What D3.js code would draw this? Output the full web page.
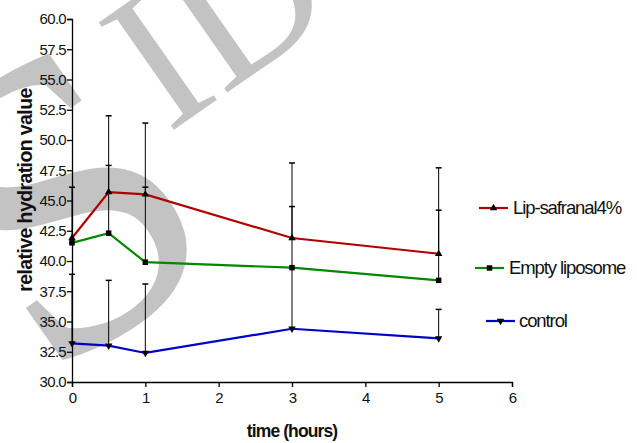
<!DOCTYPE html>
<html>
<head>
<meta charset="utf-8">
<script src="https://cdn.jsdelivr.net/npm/d3@7"></script>
<style>
  body { margin: 0; background: #fff; }
  text { font-family: "Liberation Sans", Arial, sans-serif; }
</style>
</head>
<body>
<div id="chart"></div>
<script>
// time points (hours)
var times = [0, 0.5, 1, 3, 5];
var seriesNames = ["Lip-safranal4%", "Empty liposome", "control"];
// means
var lipSafranal = [41.9, 45.7, 45.5, 41.9, 40.6];
var emptyLiposome = [41.5, 42.3, 39.9, 39.45, 38.4];
var control = [33.2, 33.0, 32.4, 34.4, 33.6];
// top of the error bars (mean + SD)
var lipSafranalTop = [46.1, 52.0, 51.4, 48.1, 47.7];
var emptyLiposomeTop = [41.5, 47.9, 46.1, 44.5, 44.2];
var controlTop = [38.9, 38.4, 38.1, 39.4, 36.0];
var yTicks = [30, 32.5, 35, 37.5, 40, 42.5, 45, 47.5, 50, 52.5, 55, 57.5, 60];
var xTicks = [0, 1, 2, 3, 4, 5, 6];

var W = 637, H = 443;
var margin = { top: 19, right: 125, bottom: 61, left: 72 };
var width = W - margin.left - margin.right,
    height = H - margin.top - margin.bottom;

var svg = d3.select("#chart").append("svg")
    .attr("width", W).attr("height", H);

// watermark behind everything (big S, smaller ID)
var wm = svg.append("g").attr("fill", "#c3c3c3");
wm.append("text")
    .attr("transform", "translate(45,385) rotate(-35)")
    .attr("font-size", 420)
    .style("font-family", "'Liberation Serif', serif")
    .text("S");
wm.append("text")
    .attr("transform", "translate(168,134) rotate(-35)")
    .attr("font-size", 200)
    .style("font-family", "'Liberation Serif', serif")
    .text("ID");

var g = svg.append("g")
    .attr("transform", "translate(" + margin.left + "," + margin.top + ")");

var x = d3.scaleLinear().domain([0, 6]).range([0, width]);
var y = d3.scaleLinear().domain([30, 60]).range([height, 0]);

// axes
var xAxis = g.append("g")
    .attr("transform", "translate(0," + height + ")")
    .call(d3.axisBottom(x).tickValues(xTicks).tickSize(5).tickPadding(5).tickFormat(d3.format("d")));
var yAxis = g.append("g")
    .call(d3.axisLeft(y).tickValues(yTicks).tickSize(5).tickPadding(1).tickFormat(d3.format(".1f")));

[xAxis, yAxis].forEach(function (a) {
    a.select(".domain").attr("stroke", "#000").attr("stroke-width", 1.3);
    a.selectAll(".tick line").attr("stroke", "#000").attr("stroke-width", 1.3);
    a.selectAll(".tick text")
        .attr("fill", "#111")
        .attr("font-size", 15)
        .attr("letter-spacing", -0.7)
        .style("font-family", "'Liberation Sans', Arial, sans-serif");
});

var series = [
    { name: seriesNames[0], mean: lipSafranal, top: lipSafranalTop, color: "#b00000", symbol: d3.symbolTriangle, rot: 0 },
    { name: seriesNames[1], mean: emptyLiposome, top: emptyLiposomeTop, color: "#008800", symbol: d3.symbolSquare, rot: 0 },
    { name: seriesNames[2], mean: control, top: controlTop, color: "#0000cc", symbol: d3.symbolTriangle, rot: 180 }
];

// error bars (upper only)
series.forEach(function (s) {
    var pts = times.map(function (t, i) { return { t: t, m: s.mean[i], u: s.top[i] }; });
    var eb = g.append("g").selectAll("g").data(pts).enter().append("g");
    eb.append("line")
        .attr("x1", function (d) { return x(d.t); })
        .attr("x2", function (d) { return x(d.t); })
        .attr("y1", function (d) { return y(d.m); })
        .attr("y2", function (d) { return y(d.u); })
        .attr("stroke", "#000").attr("stroke-width", 1);
    eb.append("line")
        .attr("x1", function (d) { return x(d.t) - 3; })
        .attr("x2", function (d) { return x(d.t) + 3; })
        .attr("y1", function (d) { return y(d.u); })
        .attr("y2", function (d) { return y(d.u); })
        .attr("stroke", "#000").attr("stroke-width", 1.5);
});

var line = d3.line()
    .x(function (d) { return x(d.t); })
    .y(function (d) { return y(d.v); });

series.forEach(function (s) {
    var pts = times.map(function (t, i) { return { t: t, v: s.mean[i] }; });
    g.append("path")
        .datum(pts)
        .attr("fill", "none")
        .attr("stroke", s.color)
        .attr("stroke-width", 2.2)
        .attr("d", line);
    g.append("g").selectAll("path").data(pts).enter().append("path")
        .attr("d", d3.symbol().type(s.symbol).size(s.symbol === d3.symbolSquare ? 30 : 24))
        .attr("transform", function (d) { return "translate(" + x(d.t) + "," + y(d.v) + ") rotate(" + s.rot + ")"; })
        .attr("fill", "#000");
});

// legend
var legendPos = [
    { x1: 479, x2: 508, y: 208, tx: 513 },
    { x1: 475, x2: 504, y: 268, tx: 509 },
    { x1: 486, x2: 515, y: 321, tx: 519 }
];
series.forEach(function (s, i) {
    var p = legendPos[i];
    var lg = svg.append("g");
    lg.append("line")
        .attr("x1", p.x1).attr("x2", p.x2).attr("y1", p.y).attr("y2", p.y)
        .attr("stroke", s.color).attr("stroke-width", 2.2);
    lg.append("path")
        .attr("d", d3.symbol().type(s.symbol).size(s.symbol === d3.symbolSquare ? 30 : 24))
        .attr("transform", "translate(" + ((p.x1 + p.x2) / 2) + "," + p.y + ") rotate(" + s.rot + ")")
        .attr("fill", "#000");
    lg.append("text")
        .attr("x", p.tx).attr("y", p.y + 6)
        .attr("font-size", 18.5)
        .attr("letter-spacing", -1.1)
        .attr("fill", "#111")
        .text(s.name);
});

// axis titles
svg.append("text")
    .attr("x", margin.left + width / 2)
    .attr("y", 437)
    .attr("text-anchor", "middle")
    .attr("font-weight", "bold")
    .attr("font-size", 17.5)
    .attr("letter-spacing", -0.9)
    .attr("fill", "#111")
    .text("time (hours)");

svg.append("text")
    .attr("transform", "translate(32,190) rotate(-90)")
    .attr("text-anchor", "middle")
    .attr("font-weight", "bold")
    .attr("font-size", 19.5)
    .attr("letter-spacing", -0.6)
    .attr("fill", "#111")
    .text("relative hydration value");
</script>
</body>
</html>
